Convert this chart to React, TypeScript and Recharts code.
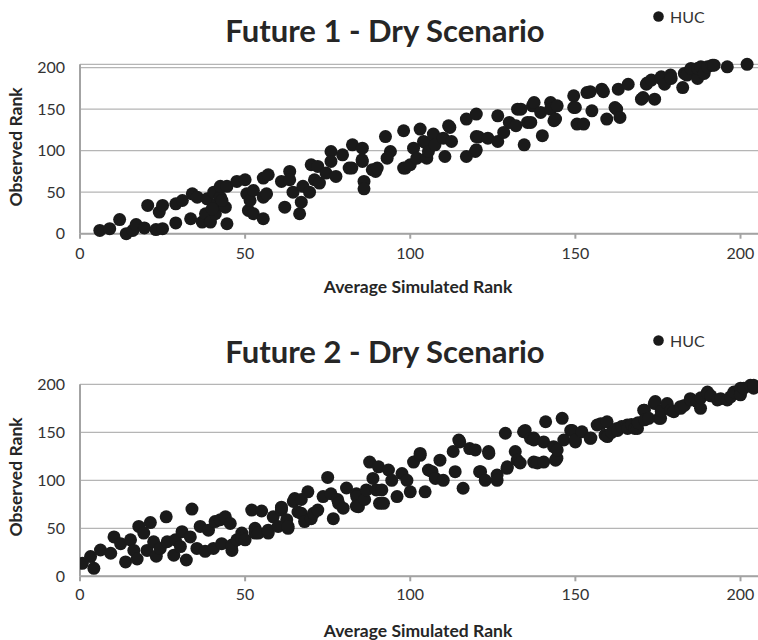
import React from 'react';
import { ScatterChart, Scatter, XAxis, YAxis, CartesianGrid, Legend } from 'recharts';

// [average simulated rank, observed rank]
const future1: [number, number][] = [
  [6, 4], [9, 6], [12, 17], [14, 0], [16, 4], [17, 11], [19.5, 7], [20.5, 34], [23, 5], [24, 26],
  [25, 34], [25, 6], [29, 13], [29, 36], [31, 40], [33.5, 18], [34, 48], [35.5, 44], [37, 14], [38, 24],
  [39.5, 14], [38.5, 42], [40.5, 50], [41, 24], [41.5, 36], [42.5, 44], [42.5, 57], [44, 32], [44.5, 12], [44.5, 57],
  [43, 40], [40, 30], [47.5, 63], [50, 65], [50.5, 48], [51, 28], [51.5, 40], [52.5, 52], [52.5, 24], [55.5, 18],
  [55.5, 44], [56.5, 48], [55.5, 67], [57, 71], [61, 63], [62, 32], [63.5, 75], [63.5, 65], [64.5, 50], [66.5, 24],
  [67, 38], [67.5, 57], [69.5, 50], [70, 83], [71, 65], [72.5, 61], [72, 81], [74.5, 73], [76, 99], [76, 87],
  [77.5, 69], [79.5, 95], [81.5, 79], [82.5, 107], [85.5, 103], [85.5, 87], [86, 63], [86, 54], [88.5, 77], [89.5, 75],
  [82.3, 79], [85.4, 89], [90, 79], [92.5, 117], [94, 99], [93, 91], [98, 79], [98.5, 79], [98, 124], [100, 83],
  [101, 103], [103, 126], [102, 91], [104, 111], [104.5, 110], [105, 91], [105.5, 99], [107, 120], [107.5, 107], [110, 115],
  [110.5, 93], [111.6, 130], [112, 128], [112.5, 111], [117, 93], [117, 138], [119.7, 99], [120, 144], [120, 117], [120.7, 116.5],
  [120, 101], [123.5, 115], [126.5, 142], [126.5, 111], [128.3, 122], [130, 134], [132.5, 150], [133.5, 150], [132, 130], [134.5, 107],
  [135.5, 134], [136.5, 134], [137, 154], [137.5, 158], [139.5, 146], [140, 118], [142.5, 158], [142.5, 150], [143.5, 136], [144, 138],
  [144.5, 154], [149.5, 166], [149.5, 152], [150, 152], [150.5, 132], [152.5, 132], [153.5, 170], [154.5, 171], [155, 148], [158, 174],
  [158.5, 171], [159.5, 138], [162, 152], [162.5, 150], [163.5, 140], [163, 174], [166, 180], [170, 162], [170.5, 164], [171.5, 180],
  [171.7, 181.5], [174, 162], [173, 185], [175.8, 187], [176, 189], [177, 180], [178.8, 191], [179, 187], [182.5, 176], [183, 193],
  [183.8, 191], [185, 199], [187, 187], [187, 199], [188, 201], [189, 193], [190, 201], [191.5, 203], [192, 203], [196, 201],
  [202, 204],
];

const future2: [number, number][] = [
  [0.7, 13.5], [3.2, 20.5], [4.2, 8.3], [6.2, 27.4], [9.3, 24], [10.3, 41], [12.3, 34], [13.8, 15], [15.3, 38], [16.3, 27],
  [17.3, 18], [17.8, 52], [19.3, 45], [21.3, 56], [20.3, 27], [22.3, 36], [23.1, 21], [24.3, 29], [26.1, 62], [26.4, 36],
  [28.4, 22], [28.9, 38], [30.9, 46.5], [30.4, 31], [32.2, 17], [33.4, 41], [33.9, 70], [35.4, 29], [36.4, 52], [37.9, 26],
  [38.9, 48], [40.4, 29], [40.9, 57], [42.5, 59], [42.9, 34], [44, 62], [45.5, 55], [46, 27], [46, 32.6], [47.5, 38],
  [49, 45], [49, 39.6], [50, 38], [52, 69], [53, 50], [53, 45], [54, 45], [55, 68], [57, 45], [57, 48],
  [58.5, 62], [60, 52], [61, 69], [61, 72], [62.6, 59], [63, 50], [63, 52], [64.6, 78], [65, 81], [66, 67],
  [67, 80], [67, 65.6], [68, 57], [69, 88], [70, 60], [70.7, 65.6], [72, 69], [73.6, 83], [75, 103], [76, 86],
  [76.7, 60], [78, 80], [78.3, 76], [79.7, 71], [80.7, 92], [83.7, 86], [83.8, 83], [83.7, 73], [84.3, 72.5], [86.2, 80],
  [86.7, 90], [87.7, 119], [88.7, 102], [89.7, 90], [90.4, 114], [90.7, 76], [91.4, 90], [91.9, 76], [93.4, 110.7], [94.4, 100],
  [96, 83], [97.5, 107], [99, 100], [100, 88], [101, 119], [103, 126], [103, 128], [104.5, 88], [105.5, 110.7], [106.6, 109],
  [107.6, 102], [109, 121], [110, 100], [113, 130], [113.6, 109], [114.7, 142], [115, 140], [116, 91.7], [118, 133], [119.7, 131.6],
  [121, 109], [121.3, 109], [122.7, 100], [123.7, 130], [123.8, 128], [126.3, 105.5], [126.3, 100], [128.8, 149], [129.3, 112.5], [129.4, 114],
  [131.8, 130], [132.4, 121], [133.3, 118], [134.3, 150.6], [134.8, 152], [136.4, 143.7], [137.4, 144], [137.4, 142], [137.4, 119], [138.5, 118],
  [140.4, 140], [141, 161], [140.4, 119], [143.4, 135], [144, 121], [144.4, 123], [144.5, 131.6], [146, 164.6], [146.5, 142], [148.6, 152],
  [149, 152], [150, 140], [150, 142], [152, 150.6], [154.5, 143.7], [154.7, 144], [156.6, 157.6], [157.7, 159], [159, 147], [159.6, 161],
  [159.7, 145.5], [161, 150], [162.6, 154], [162.8, 152], [164, 156], [165.7, 157.6], [165.8, 154], [167, 158], [168, 154], [168.8, 154],
  [169, 160], [170.7, 173], [170.9, 173], [171, 163], [172.2, 164.6], [173.9, 180], [174.2, 182], [175.4, 164.6], [175.8, 164.6], [176, 172],
  [177.8, 180], [178.9, 173], [179.8, 171.5], [181.8, 176.7], [181.9, 175], [183, 178], [184.8, 185], [184.9, 183.7], [186.9, 182], [187.9, 175],
  [188, 186], [190, 192], [190, 190.6], [191, 188], [193, 183.7], [194, 185], [196, 183.7], [197, 187], [198, 192], [200, 196],
  [200, 189], [201, 196], [203, 199], [204, 196], [204, 199],
];

const xTicks = [0, 50, 100, 150, 200];
const yTicks = [0, 50, 100, 150, 200];

const FONT = 'Lato, "Open Sans", sans-serif';
const DOT = '#1a1a1a';
const TEXT = '#333333';

interface PanelProps {
  title: string;
  points: [number, number][];
  bottomMargin: number;
  xTickMargin: number;
  titleY: number;
  xTitleY: number;
  yTitleY: number;
  legendTop: number;
}

const LegendBox = () => (
  <div style={{ display: 'flex', alignItems: 'center', fontFamily: FONT, fontSize: 16, color: TEXT, lineHeight: '19px' }}>
    <svg width={11} height={11}>
      <circle cx={5.5} cy={5.5} r={5.3} fill={DOT} />
    </svg>
    <span style={{ marginLeft: 6 }}>HUC</span>
  </div>
);

const Dot = (props: any) => <circle cx={props.cx} cy={props.cy} r={6.5} fill={DOT} />;

const Panel: React.FC<PanelProps> = ({ title, points, bottomMargin, xTickMargin, titleY, xTitleY, yTitleY, legendTop }) => {
  const data = points.map(([sim, obs]) => ({ sim, obs }));
  return (
    <div style={{ position: 'relative', width: 758, height: 320 }}>
      <ScatterChart width={758} height={320} margin={{ top: 64.3, right: 0, bottom: bottomMargin, left: 0 }}>
        <CartesianGrid horizontal vertical={false} stroke="#b5b5b5" strokeWidth={1.3} />
        <XAxis
          type="number"
          dataKey="sim"
          domain={[0, 205.3]}
          ticks={xTicks}
          height={30}
          tickSize={5}
          tickMargin={xTickMargin}
          stroke="#a3a3a3"
          strokeWidth={2}
          tick={{ fill: TEXT, fontSize: 16, fontFamily: FONT }}
          allowDataOverflow
        />
        <YAxis
          type="number"
          dataKey="obs"
          domain={[0, 200]}
          ticks={yTicks}
          width={80}
          tickLine={false}
          tickSize={0}
          tickMargin={15}
          stroke="#a3a3a3"
          strokeWidth={2}
          tick={{ fill: TEXT, fontSize: 16, fontFamily: FONT }}
        />
        {/* middle/center keeps the legend from taking room off the plot */}
        <Legend
          layout="horizontal"
          verticalAlign="middle"
          align="center"
          content={() => <LegendBox />}
          wrapperStyle={{ top: legendTop, left: 653, width: 'auto', height: 'auto' }}
        />
        <Scatter name="HUC" data={data} fill={DOT} shape={Dot} isAnimationActive={false} />
      </ScatterChart>
      <svg width={758} height={320} style={{ position: 'absolute', left: 0, top: 0, pointerEvents: 'none' }}>
        <text x={385} y={titleY} textAnchor="middle" fontFamily={FONT} fontWeight="bold" fontSize={31} fill="#262626">
          {title}
        </text>
        <text x={418} y={xTitleY} textAnchor="middle" fontFamily={FONT} fontWeight="bold" fontSize={17.5} fill="#262626">
          Average Simulated Rank
        </text>
        <text
          transform={`translate(21.5,${yTitleY}) rotate(-90)`}
          textAnchor="middle"
          fontFamily={FONT}
          fontWeight="bold"
          fontSize={17.5}
          fill="#262626"
        >
          Observed Rank
        </text>
      </svg>
    </div>
  );
};

export default function App() {
  return (
    <div style={{ position: 'absolute', left: 0, top: 0, width: 758, height: 640, background: '#fff', overflow: 'hidden' }}>
      <Panel
        title="Future 1 - Dry Scenario"
        points={future1}
        bottomMargin={56.3}
        xTickMargin={9}
        titleY={42}
        xTitleY={293}
        yTitleY={147}
        legendTop={7}
      />
      <Panel
        title="Future 2 - Dry Scenario"
        points={future2}
        bottomMargin={33.7}
        xTickMargin={7}
        titleY={42.7}
        xTitleY={316.5}
        yTitleY={157}
        legendTop={10.5}
      />
    </div>
  );
}
